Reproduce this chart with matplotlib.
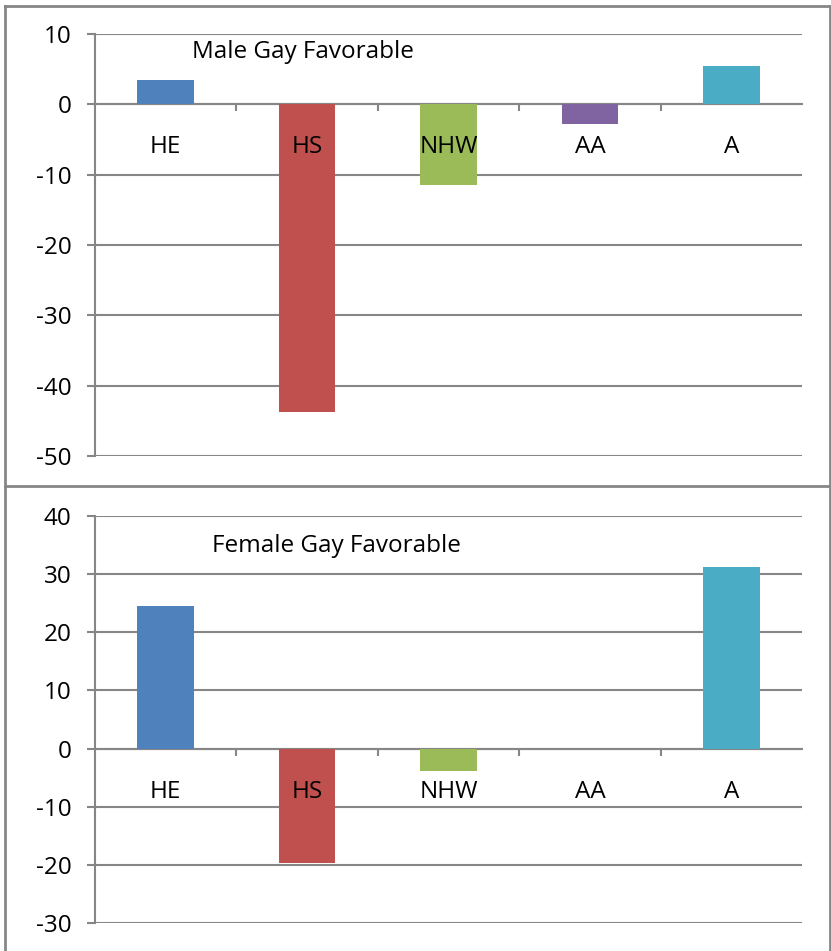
import matplotlib
matplotlib.use('Agg')
import matplotlib.pyplot as plt
from matplotlib.lines import Line2D
import numpy as np

plt.rcParams['font.family'] = ['Open Sans', 'DejaVu Sans']
plt.rcParams['axes.unicode_minus'] = False

# 数据
categories = ['HE', 'HS', 'NHW', 'AA', 'A']
male_values = [3.5, -43.8, -11.4, -2.8, 5.4]
female_values = [24.6, -19.6, -3.8, 0.0, 31.2]
colors = ['#4F81BD', '#C0504D', '#9BBB59', '#8064A2', '#4BACC6']
titles = ['Male Gay Favorable', 'Female Gay Favorable']

GRAY = '#868686'
W, H = 831, 951
FS = 17.5


def draw_panel(ax, values, ylim, title, title_pos):
    x = np.arange(len(categories))
    ax.bar(x, values, width=0.4, color=colors, zorder=3)
    ax.set_xlim(-0.5, len(categories) - 0.5)
    ax.set_ylim(*ylim)
    ax.set_yticks(np.arange(ylim[0], ylim[1] + 1, 10))
    ax.yaxis.grid(True, color=GRAY, linewidth=1.5, zorder=0)
    ax.set_axisbelow(True)

    # 坐标轴样式
    for side in ['top', 'right']:
        ax.spines[side].set_visible(False)
    ax.spines['left'].set_color(GRAY)
    ax.spines['left'].set_linewidth(1.5)
    ax.spines['bottom'].set_position(('data', 0))
    ax.spines['bottom'].set_color(GRAY)
    ax.spines['bottom'].set_linewidth(1.5)
    ax.spines['bottom'].set_zorder(2)

    # 分类边界刻度
    ax.set_xticks(np.arange(0.5, len(categories) - 0.5, 1.0))
    ax.set_xticklabels([])
    ax.tick_params(axis='x', which='major', length=5, width=1.5, color=GRAY, direction='out')
    ax.tick_params(axis='y', length=6, width=1.5, color=GRAY, pad=11, labelsize=FS)

    # 分类标签画在柱子上面
    for i, name in enumerate(categories):
        ax.annotate(name, xy=(i, 0), xytext=(0, -43), textcoords='offset pixels',
                    ha='center', va='center', fontsize=FS, zorder=5)

    ax.text(title_pos[0], title_pos[1], title, transform=ax.transAxes,
            fontsize=FS, va='center', ha='left', zorder=5)


fig = plt.figure(figsize=(W / 100, H / 100), dpi=100)

ax1 = fig.add_axes([95 / W, 1 - 456 / H, 707 / W, 422 / H])
draw_panel(ax1, male_values, (-50, 10), titles[0], (0.137, 0.957))

ax2 = fig.add_axes([95 / W, 1 - 923 / H, 707 / W, 407 / H])
draw_panel(ax2, female_values, (-30, 40), titles[1], (0.165, 0.926))

# 面板边框
def fig_line(xs, ys):
    fig.add_artist(Line2D([v / W for v in xs], [1 - v / H for v in ys],
                          color=GRAY, linewidth=2))

fig_line([5, 830], [6, 6])
fig_line([5, 5], [6, 951])
fig_line([830, 830], [6, 951])
fig_line([5, 830], [486, 486])

plt.savefig('out.png', dpi=100)
